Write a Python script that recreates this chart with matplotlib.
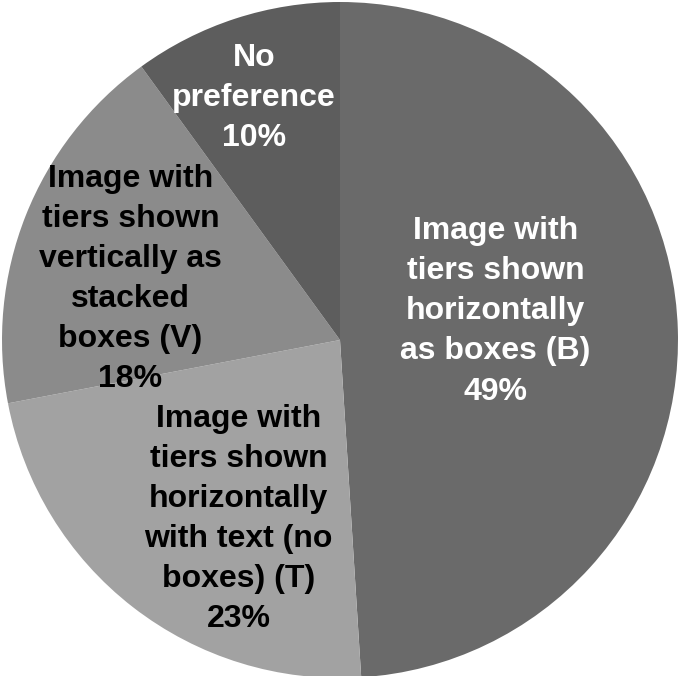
import matplotlib.pyplot as plt

# survey result, clockwise from the top
labels = ['Image with\ntiers shown\nhorizontally\nas boxes (B)',
          'Image with\ntiers shown\nhorizontally\nwith text (no\nboxes) (T)',
          'Image with\ntiers shown\nvertically as\nstacked\nboxes (V)',
          'No\npreference']
shares = [49, 23, 18, 10]
colors = ['#6a6a6a', '#a2a2a2', '#8b8b8b', '#5d5d5d']
text_colors = ['white', 'black', 'black', 'white']
# label centres, in units of the pie radius
label_pos = [(0.46, 0.085), (-0.30, -0.53), (-0.62, 0.18), (-0.255, 0.715)]

fig = plt.figure(figsize=(6.78, 6.76), dpi=100)
ax = fig.add_axes([0, 0, 1, 1])
ax.pie(shares, colors=colors, startangle=90, counterclock=False,
       radius=1, center=(0, 0), frame=False)
ax.set_xlim(-340 / 338, 338 / 338)
ax.set_ylim(-336 / 338, 340 / 338)
ax.set_aspect('equal')
ax.axis('off')

for lab, pct, (x, y), c in zip(labels, shares, label_pos, text_colors):
    ax.text(x, y, '%s\n%d%%' % (lab, pct), ha='center', va='center',
            color=c, fontsize=23, fontweight='bold',
            family='Liberation Sans', linespacing=1.44)

fig.savefig('out.png', dpi=100)
